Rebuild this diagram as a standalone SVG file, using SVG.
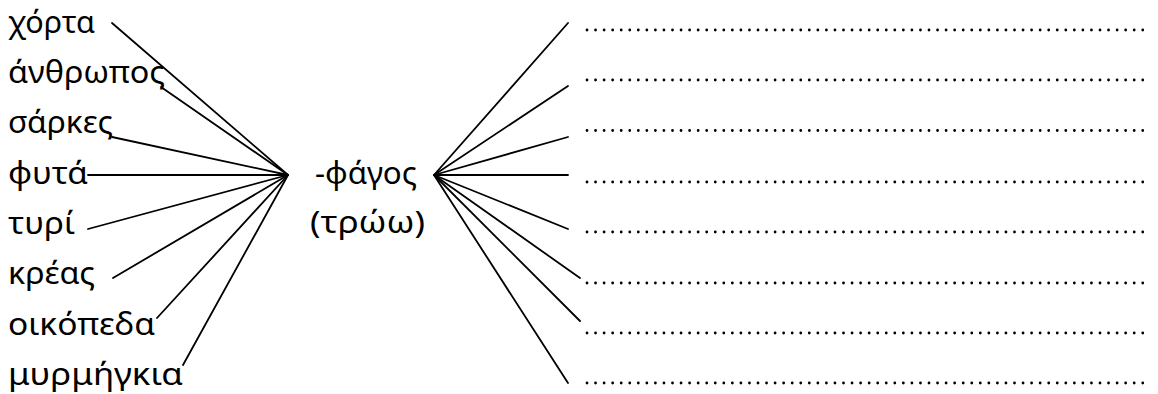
<svg xmlns="http://www.w3.org/2000/svg" width="1158" height="394" viewBox="0 0 1158 394">
<style>
.w{font-family:"Noto Sans","DejaVu Sans",sans-serif;font-size:31px;fill:#000}
.c{stroke:#000;stroke-width:1.8;fill:none;stroke-linecap:round}
.d{stroke:#000;stroke-width:2.8;fill:none;stroke-linecap:round;stroke-dasharray:0 8.55}
</style>
<rect width="1158" height="394" fill="#fff"/>
<g id="connectors">
<line class="c" x1="112" y1="23" x2="288" y2="175"/>
<line class="c" x1="161" y1="87" x2="288" y2="175"/>
<line class="c" x1="112" y1="137" x2="288" y2="175"/>
<line class="c" x1="88" y1="175" x2="288" y2="175"/>
<line class="c" x1="88" y1="229" x2="288" y2="175"/>
<line class="c" x1="113" y1="278" x2="288" y2="175"/>
<line class="c" x1="157" y1="318" x2="288" y2="175"/>
<line class="c" x1="183" y1="365" x2="288" y2="175"/>
<line class="c" x1="434" y1="175" x2="568" y2="23"/>
<line class="c" x1="434" y1="175" x2="568" y2="86"/>
<line class="c" x1="434" y1="175" x2="568" y2="137"/>
<line class="c" x1="434" y1="175" x2="568" y2="175"/>
<line class="c" x1="434" y1="175" x2="568" y2="229"/>
<line class="c" x1="434" y1="175" x2="580" y2="278"/>
<line class="c" x1="434" y1="175" x2="580" y2="321"/>
<line class="c" x1="434" y1="175" x2="568" y2="383"/>
</g>
<g id="n-xorta"><text class="w" x="8" y="33" textLength="87" lengthAdjust="spacingAndGlyphs">χόρτα</text></g>
<g id="n-anthropos"><text class="w" x="8" y="83" textLength="157" lengthAdjust="spacingAndGlyphs">άνθρωπος</text></g>
<g id="n-sarkes"><text class="w" x="8" y="133" textLength="105" lengthAdjust="spacingAndGlyphs">σάρκες</text></g>
<g id="n-fyta"><text class="w" x="8" y="184" textLength="80" lengthAdjust="spacingAndGlyphs">φυτά</text></g>
<g id="n-tyri"><text class="w" x="8" y="234" textLength="67" lengthAdjust="spacingAndGlyphs">τυρί</text></g>
<g id="n-kreas"><text class="w" x="8" y="284" textLength="87" lengthAdjust="spacingAndGlyphs">κρέας</text></g>
<g id="n-oikopeda"><text class="w" x="8" y="335" textLength="147" lengthAdjust="spacingAndGlyphs">οικόπεδα</text></g>
<g id="n-myrmigkia"><text class="w" x="8" y="385" textLength="175" lengthAdjust="spacingAndGlyphs">μυρμήγκια</text></g>
<g id="n-center">
<text class="w" x="315" y="184" textLength="102" lengthAdjust="spacingAndGlyphs">-φάγος</text>
<text class="w" x="310" y="233" textLength="115" lengthAdjust="spacingAndGlyphs">(τρώω)</text>
</g>
<g id="blanks">
<line class="d" x1="587" y1="30" x2="1151" y2="30"/>
<line class="d" x1="587" y1="80" x2="1151" y2="80"/>
<line class="d" x1="587" y1="130.5" x2="1151" y2="130.5"/>
<line class="d" x1="587" y1="182" x2="1151" y2="182"/>
<line class="d" x1="587" y1="232" x2="1151" y2="232"/>
<line class="d" x1="587" y1="283" x2="1151" y2="283"/>
<line class="d" x1="587" y1="333" x2="1151" y2="333"/>
<line class="d" x1="587" y1="383" x2="1151" y2="383"/>
</g>
</svg>
